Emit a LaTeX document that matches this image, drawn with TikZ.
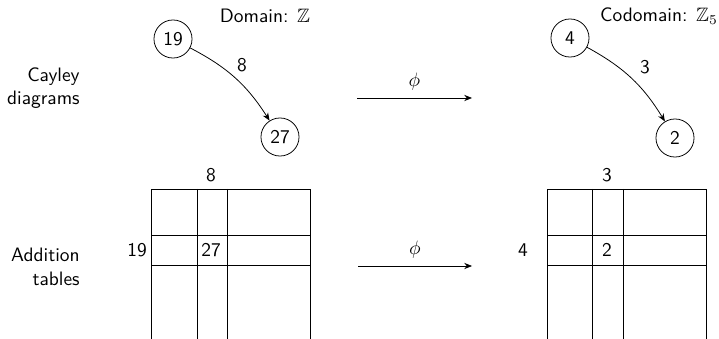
\documentclass[tikz,border=0pt]{standalone}
\usepackage{amssymb}
\usetikzlibrary{arrows.meta}
\begin{document}
\begin{tikzpicture}[x=0.515pt,y=-0.515pt,
  every node/.style={font=\sffamily},
  elem/.style={circle,draw,minimum size=19.6pt,inner sep=0pt},
  lbl/.style={inner sep=1pt},
  hom/.style={-{Stealth[length=4pt,width=3.2pt]}},
  grid/.style={line width=0.45pt}]
\useasboundingbox (0,0) rectangle (719,339);
% row labels
\node[lbl,align=right,anchor=east] (cay) at (82,88) {Cayley\\diagrams};
\node[lbl,align=right,anchor=east] (add) at (82,267) {Addition\\tables};
% domain Cayley diagram
\node[lbl] (dom) at (265,16) {Domain: $\mathbb{Z}$};
\node[elem] (a19) at (173,39) {19};
\node[elem] (a27) at (280,137) {27};
\draw[hom] (a19) to[bend left=15] (a27);
\node[lbl] (l8) at (242,65) {8};
% codomain Cayley diagram
\node[lbl] (cod) at (659,16) {Codomain: $\mathbb{Z}_5$};
\node[elem] (b4) at (570,38) {4};
\node[elem] (b2) at (675,138) {2};
\draw[hom] (b4) to[bend left=15] (b2);
\node[lbl] (l3) at (645,67) {3};
% phi arrows
\coordinate (p1s) at (357,98);
\coordinate (p1e) at (472,98);
\draw[hom] (p1s) -- (p1e) node[lbl,midway,above=3pt] (phi1) {$\phi$};
\coordinate (p2s) at (358,266);
\coordinate (p2e) at (472,266);
\draw[hom] (p2s) -- (p2e) node[lbl,midway,above=3pt] (phi2) {$\phi$};
% left table
\draw[grid] (151,339) -- (151,189) -- (310,189) -- (310,339);
\draw[grid] (197,189) -- (197,339);
\draw[grid] (227,189) -- (227,339);
\draw[grid] (151,235) -- (310,235);
\draw[grid] (151,265) -- (310,265);
\node[lbl] (t8) at (211,175) {8};
\node[lbl] (t19) at (137,250) {19};
\node[lbl] (t27) at (211,250) {27};
% right table
\draw[grid] (547,339) -- (547,189) -- (706,189) -- (706,339);
\draw[grid] (592,189) -- (592,339);
\draw[grid] (623,189) -- (623,339);
\draw[grid] (547,235) -- (706,235);
\draw[grid] (547,265) -- (706,265);
\node[lbl] (t3) at (607,175) {3};
\node[lbl] (t4) at (523,250) {4};
\node[lbl] (t2) at (607,250) {2};
\end{tikzpicture}
\end{document}
